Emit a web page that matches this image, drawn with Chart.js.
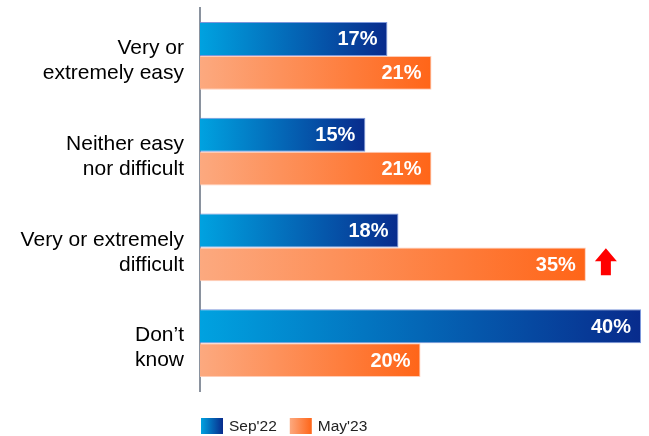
<!DOCTYPE html>
<html>
<head>
<meta charset="utf-8">
<script src="https://cdn.jsdelivr.net/npm/chart.js@4.4.1/dist/chart.umd.min.js"></script>
<style>
  html, body { margin: 0; padding: 0; background: #fff; }
  #wrap { width: 649px; height: 436px; }
</style>
</head>
<body>
<div id="wrap"><canvas id="c" width="649" height="436"></canvas></div>
<script>
const categories = [
  ["Very or", "extremely easy"],
  ["Neither easy", "nor difficult"],
  ["Very or extremely", "difficult"],
  ["Don\u2019t", "know"]
];
const sep22 = [17, 15, 18, 40];
const may23 = [21, 21, 35, 20];
// significant increase marker on May'23
const may23Up = [false, false, true, false];

const BLUE = ["#00a2e0", "#082b8c"];
const ORANGE = ["#fca97f", "#ff6518"];
const FONT = "'Liberation Sans', Arial, sans-serif";

function barGradient(stops) {
  return (ctx) => {
    const chart = ctx.chart;
    const area = chart.chartArea;
    if (!area || ctx.type !== "data") return stops[1];
    const x = chart.scales.x;
    const end = x.getPixelForValue(ctx.raw);
    const g = chart.ctx.createLinearGradient(x.getPixelForValue(0), 0, end, 0);
    g.addColorStop(0, stops[0]);
    g.addColorStop(1, stops[1]);
    return g;
  };
}

const valueLabels = {
  id: "valueLabels",
  afterDatasetsDraw(chart) {
    const { ctx } = chart;
    ctx.save();
    ctx.font = "bold 20px " + FONT;
    ctx.fillStyle = "#ffffff";
    ctx.textAlign = "right";
    ctx.textBaseline = "middle";
    chart.data.datasets.forEach((ds, di) => {
      chart.getDatasetMeta(di).data.forEach((bar, i) => {
        ctx.fillText(ds.data[i] + "%", bar.x - 10, bar.y + 1);
        if (ds.upArrows && ds.upArrows[i]) {
          const cx = bar.x + 20, cy = bar.y - 2;
          ctx.fillStyle = "#ff0000";
          ctx.beginPath();
          ctx.moveTo(cx, cy - 14);
          ctx.lineTo(cx + 11, cy - 1);
          ctx.lineTo(cx + 5, cy - 1);
          ctx.lineTo(cx + 5, cy + 13);
          ctx.lineTo(cx - 5, cy + 13);
          ctx.lineTo(cx - 5, cy - 1);
          ctx.lineTo(cx - 11, cy - 1);
          ctx.closePath();
          ctx.fill();
          ctx.fillStyle = "#ffffff";
        }
      });
    });
    ctx.restore();
  }
};

const gradLegend = {
  id: "gradLegend",
  afterDraw(chart) {
    const { ctx, chartArea } = chart;
    ctx.save();
    ctx.font = "15.5px " + FONT;
    ctx.textBaseline = "middle";
    let x = chartArea.left + 1;
    const y = 418;
    chart.data.datasets.forEach((ds) => {
      const g = ctx.createLinearGradient(x, 0, x + 22, 0);
      g.addColorStop(0, ds.stops[0]);
      g.addColorStop(1, ds.stops[1]);
      ctx.fillStyle = g;
      ctx.fillRect(x, y, 22, 16);
      ctx.fillStyle = "#222";
      ctx.textAlign = "left";
      ctx.fillText(ds.label, x + 28, y + 8.5);
      x += 28 + ctx.measureText(ds.label).width + 13;
    });
    ctx.restore();
  }
};

new Chart(document.getElementById("c"), {
  type: "bar",
  data: {
    labels: categories,
    datasets: [
      {
        label: "Sep'22",
        data: sep22,
        stops: BLUE,
        backgroundColor: barGradient(BLUE),
        borderColor: "rgba(110,140,215,0.9)",
        borderWidth: 1,
        borderSkipped: "start"
      },
      {
        label: "May'23",
        data: may23,
        stops: ORANGE,
        upArrows: may23Up,
        backgroundColor: barGradient(ORANGE),
        borderColor: "rgba(255,200,175,0.9)",
        borderWidth: 1,
        borderSkipped: "start"
      }
    ]
  },
  options: {
    indexAxis: "y",
    responsive: false,
    animation: false,
    layout: { padding: { top: 8, right: 8, bottom: 45, left: 0 } },
    datasets: { bar: { categoryPercentage: 0.71, barPercentage: 1 } },
    scales: {
      x: {
        display: false,
        min: 0,
        max: 40
      },
      y: {
        grid: { display: false, drawTicks: false },
        border: { display: true, color: "#8a929e", width: 2 },
        ticks: {
          color: "#000",
          padding: 16,
          labelOffset: 5,
          font: { family: FONT, size: 21, lineHeight: 1.19 }
        },
        afterFit(scale) {
          scale.width = 200;
          scale.paddingTop = 0;
          scale.paddingBottom = 0;
        }
      }
    },
    plugins: {
      legend: { display: false },
      tooltip: { enabled: false }
    }
  },
  plugins: [valueLabels, gradLegend]
});
</script>
</body>
</html>
